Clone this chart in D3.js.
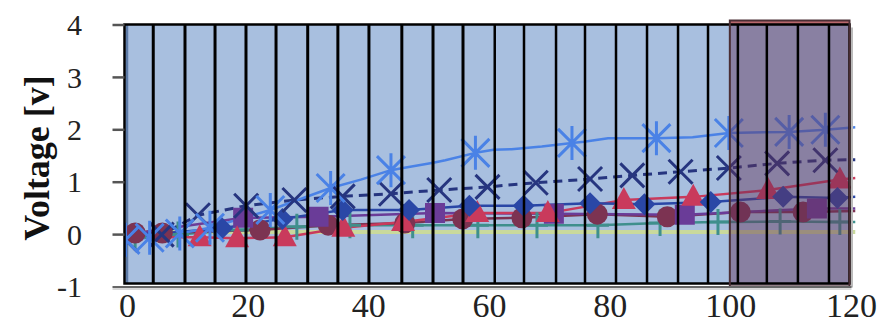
<!DOCTYPE html>
<html>
<head>
<meta charset="utf-8">
<script src="https://cdn.jsdelivr.net/npm/d3@7/dist/d3.min.js"></script>
<style>
  html, body { margin: 0; padding: 0; background: #ffffff; }
  svg { display: block; }
  text { font-family: "Liberation Serif", "Times New Roman", Times, serif; }
</style>
</head>
<body>
<svg id="chart" width="896" height="326"></svg>
<script>
// ---- axis ticks ----
const xTicks = [0, 20, 40, 60, 80, 100, 120];
const yTicks = [-1, 0, 1, 2, 3, 4];

// vertical reference lines (time, s)
const gridX = [4.6, 9.86, 14.84, 19.97, 24.95, 30.2, 35.2, 40.35, 45.8, 50.97, 55.94,
               61.2, 66.05, 71.36, 76.16, 81.3, 86.44, 91.58, 96.55, 101.5, 106.3, 111.45, 116.6];

// highlighted interval
const bandStart = 100;
const bandEnd = 120;

// ---- series: x positions (s), voltages (V), marker x positions ----
const starX = [0, 4, 9, 14, 19, 24, 29, 34, 39, 44, 46, 51, 53, 58, 61, 64, 69, 74, 76, 80, 88, 94, 100, 110, 116, 121];
const starY = [-0.1, -0.06, 0.02, 0.13, 0.3, 0.47, 0.68, 0.89, 1.05, 1.23, 1.27, 1.37, 1.42, 1.56, 1.62, 1.63, 1.68, 1.75, 1.77, 1.84, 1.84, 1.86, 1.94, 1.96, 2.0, 2.05];
const starMarks = [0, 4, 9, 14, 24, 34, 44, 58, 74, 88, 100, 110, 116];

const crossX = [0, 6, 12, 20, 28, 36, 44, 52, 60, 68, 77, 84, 92, 100, 108, 116, 121];
const crossY = [-0.1, 0.0, 0.37, 0.55, 0.66, 0.73, 0.78, 0.85, 0.91, 0.99, 1.06, 1.13, 1.2, 1.27, 1.36, 1.42, 1.43];
const crossMarks = [0, 6, 12, 20, 28, 36, 44, 52, 60, 68, 77, 84, 92, 100, 108, 116];

const diamondX = [0, 6, 16, 26, 36, 47, 57, 66, 77, 86, 97, 109, 118, 121];
const diamondY = [0, 0.02, 0.12, 0.3, 0.47, 0.47, 0.55, 0.55, 0.6, 0.58, 0.62, 0.72, 0.7, 0.72];
const diamondMarks = [16, 26, 36, 47, 57, 66, 77, 86, 97, 109, 118];

const triX = [0, 12.3, 18.5, 26.4, 36.1, 46, 58.3, 70, 82.6, 94.1, 106.5, 118.4, 121];
const triY = [-0.05, -0.05, -0.07, -0.05, 0.13, 0.24, 0.41, 0.41, 0.66, 0.72, 0.85, 1.05, 1.08];
const triMarks = [12.3, 18.5, 26.4, 36.1, 46, 58.3, 70, 82.6, 94.1, 106.5, 118.4];

const squareX = [0, 19.5, 32, 51.3, 71, 92.7, 114.6, 121];
const squareY = [0.0, 0.32, 0.34, 0.41, 0.4, 0.38, 0.5, 0.5];
const squareMarks = [19.5, 32, 51.3, 71, 92.7, 114.6];

const circleX = [0, 1.6, 6.1, 22.3, 33.6, 46.3, 55.9, 65.7, 78.2, 89.8, 101.9, 112.3, 121];
const circleY = [0.03, 0.03, 0.03, 0.09, 0.18, 0.22, 0.3, 0.32, 0.39, 0.34, 0.43, 0.43, 0.45];
const circleMarks = [1.6, 6.1, 22.3, 33.6, 46.3, 55.9, 65.7, 78.2, 89.8, 101.9, 112.3];

const plusX = [0, 1.6, 8.7, 18.6, 28.4, 37.2, 47.6, 58.4, 68.2, 78.3, 88.6, 98.2, 108.5, 118.4, 121];
const plusY = [-0.05, -0.05, 0.0, 0.09, 0.15, 0.18, 0.18, 0.18, 0.18, 0.18, 0.22, 0.24, 0.25, 0.24, 0.24];
const plusMarks = [1.6, 8.7, 18.6, 28.4, 37.2, 47.6, 58.4, 68.2, 78.3, 88.6, 98.2, 108.5, 118.4];

const baseX = [0, 121];
const baseY = [0.05, 0.05];

// ---- layout ----
const svg = d3.select("#chart");
const x = d3.scaleLinear().domain([0, 120]).range([125.5, 849.5]);
const y = d3.scaleLinear().domain([-1, 4]).range([287, 25]);

const plotTop = y(4) - 0.5;
const plotBottom = y(-1) - 3.5;
const plotLeft = x(0) - 1;
const plotRight = x(120);

svg.append("defs").append("clipPath").attr("id", "plotClip")
  .append("rect").attr("x", plotLeft).attr("y", plotTop)
  .attr("width", plotRight - plotLeft + 6).attr("height", plotBottom - plotTop);

// plot background
svg.append("rect").attr("x", plotLeft).attr("y", plotTop)
  .attr("width", plotRight - plotLeft).attr("height", plotBottom - plotTop)
  .attr("fill", "#a8bfdf");

// inner edge at x = 0
svg.append("line").attr("x1", x(0) + 1.5).attr("x2", x(0) + 1.5)
  .attr("y1", plotTop).attr("y2", plotBottom)
  .attr("stroke", "#5c7aa6").attr("stroke-width", 2.5);

const dataG = svg.append("g").attr("clip-path", "url(#plotClip)");

function zip(xs, ys) { return xs.map((v, i) => [v, ys[i]]); }
function valueAt(xs, ys, xv) { return ys[xs.indexOf(xv)]; }

const lineGen = d3.line().x(d => x(d[0])).y(d => y(d[1]));

function drawLine(xs, ys, color, width, dash) {
  dataG.append("path").datum(zip(xs, ys))
    .attr("d", lineGen).attr("fill", "none")
    .attr("stroke", color).attr("stroke-width", width)
    .attr("stroke-dasharray", dash || null)
    .attr("stroke-linejoin", "round");
}

function markPoints(xs, ys, marks) {
  return marks.map(m => [m, valueAt(xs, ys, m)]);
}

function drawFilled(xs, ys, marks, pathStr, fill) {
  dataG.append("g").selectAll("path")
    .data(markPoints(xs, ys, marks)).join("path")
    .attr("transform", d => `translate(${x(d[0])},${y(d[1])})`)
    .attr("d", pathStr).attr("fill", fill);
}

function drawStroked(xs, ys, marks, pathStr, color, sw) {
  dataG.append("g").selectAll("path")
    .data(markPoints(xs, ys, marks)).join("path")
    .attr("transform", d => `translate(${x(d[0])},${y(d[1])})`)
    .attr("d", pathStr).attr("fill", "none")
    .attr("stroke", color).attr("stroke-width", sw).attr("stroke-linecap", "butt");
}

// lines
drawLine(baseX, baseY, "#c9d99c", 4);
drawLine(plusX, plusY, "#3f8f8c", 2.5);
drawLine(circleX, circleY, "#7c3352", 2.5);
drawLine(squareX, squareY, "#6a3c98", 2.5);
drawLine(triX, triY, "#c93a5c", 2.5);
drawLine(diamondX, diamondY, "#2a47a6", 2.5);
drawLine(crossX, crossY, "#26357f", 3, "9,6");
drawLine(starX, starY, "#4a82e6", 2.5);

// marker shapes
const plusPath = "M-11,0H11M0,-13V13";
const xPath = "M-12,-12L12,12M-12,12L12,-12";
const starPath = "M-14,-14L14,14M-14,14L14,-14M0,-17V17";
const diamondPath = "M0,-11L11,0L0,11L-11,0Z";
const triPath = "M0,-13L12,9L-12,9Z";
const squarePath = "M-10,-10H10V10H-10Z";
const circlePath = d3.arc()({ innerRadius: 0, outerRadius: 10.5, startAngle: 0, endAngle: 2 * Math.PI });

drawStroked(plusX, plusY, plusMarks, plusPath, "#3f8f8c", 3);
drawFilled(circleX, circleY, circleMarks, circlePath, "#7c3352");
drawFilled(squareX, squareY, squareMarks, squarePath, "#6a3c98");
drawFilled(triX, triY, triMarks, triPath, "#c93a5c");
drawFilled(diamondX, diamondY, diamondMarks, diamondPath, "#2a47a6");
drawStroked(crossX, crossY, crossMarks, xPath, "#26357f", 3);
drawStroked(starX, starY, starMarks, starPath, "#4a82e6", 3);

// highlighted interval overlay
svg.append("rect")
  .attr("x", x(bandStart) + 1).attr("y", plotTop - 4)
  .attr("width", x(bandEnd) - x(bandStart) - 1).attr("height", plotBottom - plotTop + 6)
  .attr("fill", "#643258").attr("fill-opacity", 0.45);
svg.append("rect")
  .attr("x", x(bandStart) + 1).attr("y", plotTop - 4)
  .attr("width", x(bandEnd) - x(bandStart) - 1).attr("height", 4)
  .attr("fill", "#b9676c");

// vertical reference lines
svg.append("g").selectAll("line").data(gridX).join("line")
  .attr("x1", d => x(d)).attr("x2", d => x(d))
  .attr("y1", plotTop).attr("y2", plotBottom)
  .attr("stroke", "#000").attr("stroke-width", d => d < 60 ? 3 : 2.5);

// plot frame
svg.append("rect").attr("x", plotLeft).attr("y", plotTop)
  .attr("width", plotRight - plotLeft).attr("height", plotBottom - plotTop)
  .attr("fill", "none").attr("stroke", "#000").attr("stroke-width", 2.5);
svg.append("rect")
  .attr("x", x(bandStart) + 1).attr("y", plotTop - 4)
  .attr("width", x(bandEnd) - x(bandStart) - 1).attr("height", plotBottom - plotTop + 7)
  .attr("fill", "none").attr("stroke", "#4a2e34").attr("stroke-width", 2);

// axes
svg.append("line").attr("x1", plotRight + 2.5).attr("x2", plotRight + 2.5)
  .attr("y1", plotTop + 3).attr("y2", plotBottom + 4)
  .attr("stroke", "#bbbbbb").attr("stroke-width", 2);
svg.append("line").attr("x1", x(0) - 13).attr("x2", plotRight + 2)
  .attr("y1", y(-1)).attr("y2", y(-1))
  .attr("stroke", "#666666").attr("stroke-width", 2);
svg.append("line").attr("x1", x(0) - 13).attr("x2", plotRight + 2)
  .attr("y1", y(-1) + 2).attr("y2", y(-1) + 2)
  .attr("stroke", "#cccccc").attr("stroke-width", 1.5);

svg.append("g").selectAll("line").data(yTicks.filter(v => v > -1)).join("line")
  .attr("x1", x(0) - 13).attr("x2", x(0) - 1)
  .attr("y1", d => y(d)).attr("y2", d => y(d))
  .attr("stroke", "#555555").attr("stroke-width", 2.5);

svg.append("g").selectAll("text").data(yTicks).join("text")
  .attr("x", 82).attr("y", d => y(d))
  .attr("dy", "0.34em").attr("text-anchor", "end")
  .attr("font-size", 30).attr("fill", "#222")
  .text(d => d);

svg.append("g").selectAll("text").data(xTicks).join("text")
  .attr("x", d => x(d) + 2).attr("y", 317)
  .attr("text-anchor", "middle")
  .attr("font-size", 34).attr("fill", "#222")
  .text(d => d);

svg.append("text")
  .attr("transform", "translate(49,158) rotate(-90)")
  .attr("text-anchor", "middle")
  .attr("font-weight", "bold").attr("font-size", 36).attr("fill", "#111")
  .text("Voltage [v]");
</script>
</body>
</html>
